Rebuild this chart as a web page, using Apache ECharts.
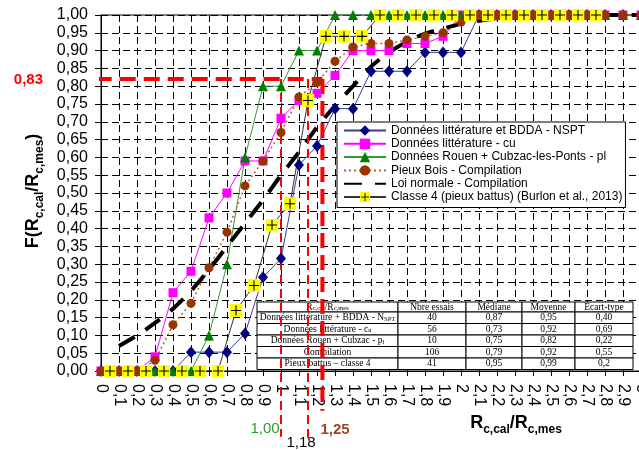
<!DOCTYPE html>
<html>
<head>
<meta charset="utf-8">
<script src="https://cdn.jsdelivr.net/npm/echarts@6/dist/echarts.min.js"></script>
<style>
  html, body { margin: 0; padding: 0; background: #fff; }
  #chart { width: 639px; height: 450px; }
</style>
</head>
<body>
<div id="chart"></div>
<script>
// abscisses Rc,cal/Rc,mes
const ratios = [0, 0.1, 0.2, 0.3, 0.4, 0.5, 0.6, 0.7, 0.8, 0.9, 1.0, 1.1, 1.2, 1.3, 1.4, 1.5,
  1.6, 1.7, 1.8, 1.9, 2.0, 2.1, 2.2, 2.3, 2.4, 2.5, 2.6, 2.7, 2.8, 2.9, 3.0];

// fréquences cumulées
const nsptF = [0, 0, 0, 0, 0, 0.053, 0.053, 0.053, 0.105, 0.263, 0.316, 0.579, 0.632, 0.737, 0.737,
  0.842, 0.842, 0.842, 0.895, 0.895, 0.895, 1, 1, 1, 1, 1, 1, 1, 1, 1, 1];
const cuF = [0, 0, 0, 0.04, 0.22, 0.28, 0.43, 0.50, 0.59, 0.59, 0.71, 0.76, 0.78, 0.83, 0.90,
  0.90, 0.90, 0.92, 0.92, 0.94, 1, 1, 1, 1, 1, 1, 1, 1, 1, 1, 1];
const plF = [0, 0, 0, 0, 0, 0, 0.1, 0.3, 0.6, 0.8, 0.8, 0.9, 0.9, 1, 1,
  1, 1, 1, 1, 1, 1, 1, 1, 1, 1, 1, 1, 1, 1, 1, 1];
const boisF = [0, 0, 0, 0.03, 0.13, 0.19, 0.29, 0.39, 0.52, 0.59, 0.67, 0.77, 0.81, 0.87, 0.91,
  0.92, 0.92, 0.93, 0.94, 0.95, 0.98, 1, 1, 1, 1, 1, 1, 1, 1, 1, 1];

// loi normale (compilation)
const normaleX = [0.1, 0.2, 0.3, 0.4, 0.5, 0.6, 0.7, 0.8, 0.9, 1.0, 1.1, 1.2, 1.3, 1.4, 1.5,
  1.6, 1.7, 1.8, 1.9, 2.0, 2.1, 2.2, 2.3, 2.4, 2.5, 2.6, 2.7, 2.8, 2.9, 3.0];
const normaleF = [0.07, 0.10, 0.135, 0.175, 0.225, 0.285, 0.35, 0.415, 0.48, 0.55, 0.615, 0.685, 0.745, 0.80, 0.855,
  0.895, 0.925, 0.948, 0.962, 0.975, 0.984, 0.99, 0.994, 0.997, 1, 1, 1, 1, 1, 1];

// classe 4 (centres de classes)
const classe4X = [0.05, 0.15, 0.25, 0.35, 0.45, 0.55, 0.65, 0.75, 0.85, 0.95, 1.05, 1.15, 1.25, 1.35,
  1.45, 1.55, 1.65, 1.75, 1.85, 1.95, 2.05, 2.15, 2.25, 2.35, 2.45, 2.55, 2.65, 2.75];
const classe4F = [0, 0, 0, 0, 0, 0, 0, 0.17, 0.24, 0.41, 0.47, 0.76, 0.94, 0.94,
  0.94, 1, 1, 1, 1, 1, 1, 1, 1, 1, 1, 1, 1, 1];

// repères rouges
const seuilF = 0.82;
const seuilStartR = -0.296;
const seuilsR = [1.0, 1.15, 1.23];
const seuilsBas = [-0.185, -0.19, -0.112];

// tableau récapitulatif
const tableNames = ['Données littérature + BDDA - N{s|SPT}', 'Données littérature - c{s|u}',
  'Données Rouen + Cubzac - p{s|l}', 'Compilation', 'Pieux battus – classe 4'];
const tableEssais = ['40', '56', '10', '106', '41'];
const tableMediane = ['0,87', '0,73', '0,75', '0,79', '0,95'];
const tableMoyenne = ['0,95', '0,92', '0,82', '0,92', '0,99'];
const tableEcart = ['0,40', '0,69', '0,22', '0,55', '0,2'];
const tableHeader = ['R{s|c,cal}/R{s|c,mes}', 'Nbre essais', 'Médiane', 'Moyenne', 'Ecart-type'];

const legendNames = [
  'Données littérature et BDDA - NSPT',
  'Données littérature - cu',
  'Données Rouen + Cubzac-les-Ponts - pl',
  'Pieux Bois - Compilation',
  'Loi normale - Compilation',
  'Classe 4 (pieux battus) (Burlon et al., 2013)'
];

const pairs = (xs, ys) => xs.map((x, i) => [x, ys[i]]);

const plusSvg = "<svg xmlns='http://www.w3.org/2000/svg' width='13' height='13'>" +
  "<rect width='13' height='13' fill='#ffff00'/>" +
  "<path d='M6.5 1.5V11.5M1.5 6.5H11.5' stroke='#000' stroke-width='1.1'/></svg>";
const plusSymbol = 'image://data:image/svg+xml;charset=utf-8,' + encodeURIComponent(plusSvg);

const myChart = echarts.init(document.getElementById('chart'));

const redLine = (data, width, dash) => ({
  type: 'line',
  data: data,
  symbol: 'none',
  clip: false,
  silent: true,
  z: 3,
  lineStyle: { color: '#ff0000', width: width, type: dash }
});

// tableau dessiné en graphic
const cols = [257, 398, 466, 522, 575, 633];
const rows = [302, 312, 323.5, 335, 346.5, 358, 369.5];
const tableRich = { s: { fontSize: 6.5, fontFamily: 'Liberation Serif', padding: [3, 0, 0, 0] } };
const tableElems = [];
const cellText = (txt, c, r) => {
  tableElems.push({
    type: 'rect', z: 1,
    shape: { x: cols[c], y: rows[r], width: cols[c + 1] - cols[c], height: rows[r + 1] - rows[r] },
    style: { fill: '#fff', stroke: '#000', lineWidth: 1 }
  });
  tableElems.push({
    type: 'text', z: 1,
    x: (cols[c] + cols[c + 1]) / 2, y: (rows[r] + rows[r + 1]) / 2,
    style: {
      text: txt, align: 'center', verticalAlign: 'middle',
      font: '9.5px "Liberation Serif"', fill: '#000', rich: tableRich
    }
  });
};
tableHeader.forEach((t, c) => cellText(t, c, 0));
tableNames.forEach((t, i) => {
  cellText(t, 0, i + 1);
  cellText(tableEssais[i], 1, i + 1);
  cellText(tableMediane[i], 2, i + 1);
  cellText(tableMoyenne[i], 3, i + 1);
  cellText(tableEcart[i], 4, i + 1);
});

const titleRich = {
  m: { fontSize: 18, fontWeight: 'bold', fontFamily: 'Liberation Sans', verticalAlign: 'bottom', lineHeight: 20, padding: [0, 0, 4, 0] },
  s: { fontSize: 12, fontWeight: 'bold', fontFamily: 'Liberation Sans', verticalAlign: 'bottom', lineHeight: 14 }
};

myChart.setOption({
  animation: false,
  backgroundColor: '#fff',
  grid: {
    left: 101, top: 15, width: 540, height: 356,
    outerBoundsMode: 'none', containLabel: false,
    show: true, borderColor: '#000', borderWidth: 1
  },
  xAxis: {
    type: 'value', min: 0, max: 3, interval: 0.1,
    axisLine: { lineStyle: { color: '#000' } },
    axisTick: { length: 5, lineStyle: { color: '#000' } },
    axisLabel: {
      rotate: -90, margin: 13, fontSize: 16, color: '#000', fontFamily: 'Liberation Sans',
      formatter: (v) => (Math.round(v * 10) / 10).toString().replace('.', ',')
    },
    splitLine: { lineStyle: { color: '#000', type: [7, 4], width: 1 } }
  },
  yAxis: {
    type: 'value', min: 0, max: 1, interval: 0.05,
    axisLine: { show: true, lineStyle: { color: '#000' } },
    axisTick: { show: true, length: 6, lineStyle: { color: '#000' } },
    axisLabel: {
      margin: 13, fontSize: 16, color: '#000', fontFamily: 'Liberation Sans',
      formatter: (v) => v.toFixed(2).replace('.', ',')
    },
    splitLine: { lineStyle: { color: '#000', type: [7, 4], width: 1 } }
  },
  legend: {
    data: legendNames,
    orient: 'vertical',
    left: 337, top: 122,
    padding: [2, 3, 4, 6],
    itemWidth: 42, itemHeight: 13, itemGap: 0.3,
    backgroundColor: '#fff', borderColor: '#000', borderWidth: 1,
    selectedMode: false,
    textStyle: { fontSize: 12, fontFamily: 'Liberation Sans', color: '#000', lineHeight: 13 }
  },
  graphic: [
    ...tableElems,
    { type: 'text', x: 43, y: 80, style: { text: '0,83', align: 'right', verticalAlign: 'middle', font: 'bold 15px "Liberation Sans"', fill: '#ff0000' } },
    { type: 'text', x: 265, y: 429, style: { text: '1,00', align: 'center', verticalAlign: 'middle', font: '15px "Liberation Sans"', fill: '#2f9a2f' } },
    { type: 'text', x: 301, y: 443, style: { text: '1,18', align: 'center', verticalAlign: 'middle', font: '15px "Liberation Sans"', fill: '#000' } },
    { type: 'text', x: 335, y: 430, style: { text: '1,25', align: 'center', verticalAlign: 'middle', font: 'bold 15px "Liberation Sans"', fill: '#a0461e' } },
    { type: 'text', x: 516, y: 426, style: { text: '{m|R}{s|c,cal}{m|/R}{s|c,mes}', align: 'center', verticalAlign: 'middle', rich: titleRich, fill: '#000' } },
    { type: 'text', x: 36, y: 191, rotation: Math.PI / 2, style: { text: '{m|F(R}{s|c,cal}{m|/R}{s|c,mes}{m|)}', align: 'center', verticalAlign: 'middle', rich: titleRich, fill: '#000' } }
  ],
  series: [
    {
      name: legendNames[0], type: 'line', data: pairs(ratios, nsptF),
      symbol: 'diamond', symbolSize: [10, 12],
      itemStyle: { color: '#000080' }, lineStyle: { color: '#3a3a9a', width: 1 }
    },
    {
      name: legendNames[1], type: 'line', data: pairs(ratios, cuF),
      symbol: 'rect', symbolSize: 9,
      itemStyle: { color: '#ff00ff' }, lineStyle: { color: '#ff00ff', width: 1 }
    },
    {
      name: legendNames[2], type: 'line', data: pairs(ratios, plF),
      symbol: 'triangle', symbolSize: 10,
      itemStyle: { color: '#008000' }, lineStyle: { color: '#339933', width: 1 }
    },
    {
      name: legendNames[3], type: 'line', data: pairs(ratios, boisF),
      symbol: 'circle', symbolSize: 9,
      itemStyle: { color: '#993300' }, lineStyle: { color: '#b3623a', width: 1.5, type: [2, 3] }
    },
    {
      name: legendNames[4], type: 'line', data: pairs(normaleX, normaleF),
      symbol: 'none', smooth: 0.3,
      itemStyle: { color: 'rgba(0,0,0,0)', borderWidth: 0 },
      lineStyle: { color: '#000', width: 4, type: [18, 13] }
    },
    {
      name: legendNames[5], type: 'line', data: pairs(classe4X, classe4F),
      symbol: plusSymbol, symbolSize: 13,
      itemStyle: { color: '#ffff00' }, lineStyle: { color: '#333', width: 1 }
    },
    redLine([[seuilStartR, seuilF], [seuilsR[2], seuilF]], 4, [16, 8]),
    redLine([[seuilsR[0], seuilF], [seuilsR[0], seuilsBas[0]]], 2, [9, 5]),
    redLine([[seuilsR[1], seuilF], [seuilsR[1], seuilsBas[1]]], 2, [9, 5]),
    redLine([[seuilsR[2], seuilF], [seuilsR[2], seuilsBas[2]]], 4, [15, 7])
  ]
});

window.addEventListener('resize', () => {
  myChart && myChart.resize();
});
</script>
</body>
</html>
